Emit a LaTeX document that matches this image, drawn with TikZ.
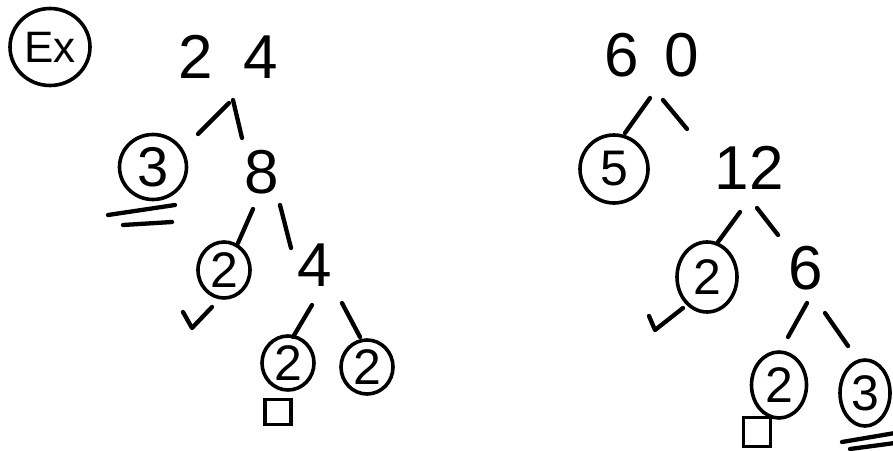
\documentclass[tikz,border=0pt]{standalone}
\usepackage{fontspec}
\setmainfont{Liberation Sans}
\usetikzlibrary{shapes.geometric}
\begin{document}
\begin{tikzpicture}[x=1pt,y=-1pt,
  stroke/.style={line width=4.3pt,line cap=round,line join=round},
  num/.style={inner sep=0pt,font=\fontsize{62}{62}\selectfont},
  circ/.style={draw,ellipse,line width=3.6pt,inner sep=0pt,font=\fontsize{50}{50}\selectfont},
  boxmark/.style={draw,rectangle,line width=3.4pt,inner sep=0pt},
]
\useasboundingbox[fill=white] (0,0) rectangle (893,450);

% ---------- left tree ----------
\node[circ,minimum width=80pt,minimum height=77pt,font=\fontsize{44}{44}\selectfont] (ex) at (50,47) {Ex};
\node[num] (n24) at (228,57) {2\hspace{31pt}4};
\node[circ,minimum width=67pt,minimum height=65pt,font=\fontsize{56}{56}\selectfont] (c3) at (153,167) {3};
\node[num] (n8) at (262,172) {8};
\node[circ,minimum width=52pt,minimum height=56pt] (c2a) at (224,270) {2};
\node[num] (n4) at (315,265) {4};
\node[circ,minimum width=52pt,minimum height=54pt] (c2b) at (288,363) {2};
\node[circ,minimum width=52pt,minimum height=54pt] (c2c) at (367,367) {2};
\node[boxmark,minimum width=26pt,minimum height=25pt] (sq1) at (278,412) {};

\coordinate (e1a) at (229,103); \coordinate (e1b) at (198,134);
\coordinate (e2a) at (233,100); \coordinate (e2b) at (242,138);
\coordinate (e3a) at (253,209); \coordinate (e3b) at (238,243);
\coordinate (e4a) at (280,205); \coordinate (e4b) at (291,248);
\coordinate (e5a) at (312,305); \coordinate (e5b) at (293,337);
\coordinate (e6a) at (342,303); \coordinate (e6b) at (360,337);
\draw[stroke] (e1a) -- (e1b);
\draw[stroke] (e2a) -- (e2b);
\draw[stroke] (e3a) -- (e3b);
\draw[stroke] (e4a) -- (e4b);
\draw[stroke] (e5a) -- (e5b);
\draw[stroke] (e6a) -- (e6b);

% check mark and underline
\coordinate (k1a) at (183,312); \coordinate (k1b) at (192,328); \coordinate (k1c) at (212,307);
\draw[stroke] (k1a) -- (k1b) -- (k1c);
\coordinate (u1a) at (108,215); \coordinate (u1b) at (175,205);
\coordinate (u2a) at (123,225); \coordinate (u2b) at (172,222);
\draw[stroke] (u1a) -- (u1b);
\draw[stroke] (u2a) -- (u2b);

% ---------- right tree ----------
\node[num] (n60) at (652,55) {6\hspace{26pt}0};
\node[circ,minimum width=68pt,minimum height=68pt] (c5) at (614,169) {5};
\node[num] (n12) at (749,168) {12};
\node[circ,minimum width=60pt,minimum height=70pt] (c2d) at (707,277) {2};
\node[num] (n6) at (806,268) {6};
\node[circ,minimum width=55pt,minimum height=66pt] (c2e) at (779,385) {2};
\node[circ,minimum width=50pt,minimum height=66pt] (c3b) at (865,393) {3};
\node[boxmark,minimum width=27pt,minimum height=29pt] (sq2) at (757,432) {};

\coordinate (e7a) at (650,98);  \coordinate (e7b) at (625,133);
\coordinate (e8a) at (663,100); \coordinate (e8b) at (687,129);
\coordinate (e9a) at (740,212); \coordinate (e9b) at (718,242);
\coordinate (e10a) at (757,208); \coordinate (e10b) at (778,235);
\coordinate (e11a) at (807,303); \coordinate (e11b) at (788,337);
\coordinate (e12a) at (825,313); \coordinate (e12b) at (848,346);
\draw[stroke] (e7a) -- (e7b);
\draw[stroke] (e8a) -- (e8b);
\draw[stroke] (e9a) -- (e9b);
\draw[stroke] (e10a) -- (e10b);
\draw[stroke] (e11a) -- (e11b);
\draw[stroke] (e12a) -- (e12b);

\coordinate (k2a) at (649,316); \coordinate (k2b) at (655,330); \coordinate (k2c) at (683,308);
\draw[stroke] (k2a) -- (k2b) -- (k2c);
\coordinate (u3a) at (842,442); \coordinate (u3b) at (895,433);
\coordinate (u4a) at (850,449); \coordinate (u4b) at (895,443);
\draw[stroke] (u3a) -- (u3b);
\draw[stroke] (u4a) -- (u4b);
\end{tikzpicture}
\end{document}
